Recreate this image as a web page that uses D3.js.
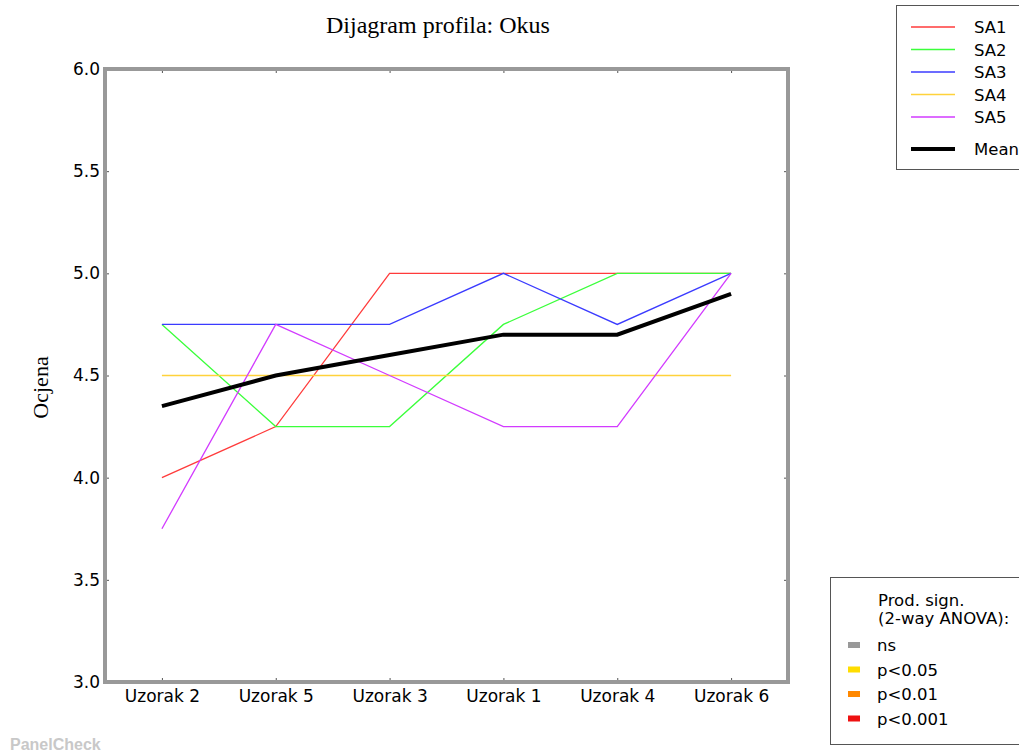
<!DOCTYPE html>
<html>
<head>
<meta charset="utf-8">
<script src="https://cdn.jsdelivr.net/npm/d3@7"></script>
<style>
  body { margin: 0; background: #fff; }
  svg { display: block; }
</style>
</head>
<body>
<div id="chart"></div>
<script>
const samples = ["Uzorak 2", "Uzorak 5", "Uzorak 3", "Uzorak 1", "Uzorak 4", "Uzorak 6"];
const assessors = ["SA1", "SA2", "SA3", "SA4", "SA5"];
const sa1 = [4.0, 4.25, 5.0, 5.0, 5.0, 5.0];
const sa2 = [4.75, 4.25, 4.25, 4.75, 5.0, 5.0];
const sa3 = [4.75, 4.75, 4.75, 5.0, 4.75, 5.0];
const sa4 = [4.5, 4.5, 4.5, 4.5, 4.5, 4.5];
const sa5 = [3.75, 4.75, 4.5, 4.25, 4.25, 5.0];
const meanVals = [4.35, 4.5, 4.6, 4.7, 4.7, 4.9];
const yTicks = [3.0, 3.5, 4.0, 4.5, 5.0, 5.5, 6.0];
const colors = ["#ff3b3b", "#3bff3b", "#3b3bff", "#ffd23b", "#d23bff"];
const signLabels = ["ns", "p<0.05", "p<0.01", "p<0.001"];
const signColors = ["#999999", "#ffdd00", "#ff8800", "#ee1111"];

const series = [sa1, sa2, sa3, sa4, sa5];

const W = 1019, H = 753;
const margin = { top: 69, right: 231, bottom: 71, left: 105 };
const width = W - margin.left - margin.right;
const height = H - margin.top - margin.bottom;

const svg = d3.select("#chart").append("svg")
  .attr("width", W).attr("height", H);

const g = svg.append("g")
  .attr("transform", `translate(${margin.left},${margin.top})`);

const x = d3.scalePoint().domain(samples).range([0, width]).padding(0.5);
const y = d3.scaleLinear().domain([3, 6]).range([height, 0]);

const line = d3.line()
  .x((d, i) => x(samples[i]))
  .y(d => y(d));

series.forEach((s, k) => {
  g.append("path")
    .datum(s)
    .attr("fill", "none")
    .attr("stroke", colors[k])
    .attr("stroke-width", 1.3)
    .attr("d", line);
});

g.append("path")
  .datum(meanVals)
  .attr("fill", "none")
  .attr("stroke", "#000")
  .attr("stroke-width", 4)
  .attr("d", line);

// axes
const yAxis = g.append("g")
  .call(d3.axisLeft(y).tickValues(yTicks).tickFormat(d3.format(".1f")).tickSizeInner(-4).tickSizeOuter(0).tickPadding(5));
yAxis.select(".domain").remove();
yAxis.selectAll("line").attr("stroke", "#555");
yAxis.selectAll("text").attr("font-family", "DejaVu Sans").attr("font-size", 17).attr("fill", "#000");

const yAxisR = g.append("g").attr("transform", `translate(${width},0)`)
  .call(d3.axisRight(y).tickValues(yTicks).tickFormat("").tickSizeInner(-4).tickSizeOuter(0));
yAxisR.select(".domain").remove();
yAxisR.selectAll("line").attr("stroke", "#555");

const xAxis = g.append("g").attr("transform", `translate(0,${height})`)
  .call(d3.axisBottom(x).tickSizeInner(-4).tickSizeOuter(0).tickPadding(8));
xAxis.select(".domain").remove();
xAxis.selectAll("line").attr("stroke", "#555");
xAxis.selectAll("text").attr("font-family", "DejaVu Sans").attr("font-size", 17).attr("fill", "#000");

const xAxisT = g.append("g")
  .call(d3.axisTop(x).tickFormat("").tickSizeInner(-4).tickSizeOuter(0));
xAxisT.select(".domain").remove();
xAxisT.selectAll("line").attr("stroke", "#555");

// frame
g.append("rect")
  .attr("x", 0).attr("y", 0)
  .attr("width", width).attr("height", height)
  .attr("fill", "none")
  .attr("stroke", "#999")
  .attr("stroke-width", 4);

// title and y label
svg.append("text")
  .attr("x", 438).attr("y", 33)
  .attr("text-anchor", "middle")
  .attr("font-family", "Liberation Serif")
  .attr("font-size", 24)
  .text("Dijagram profila: Okus");

svg.append("text")
  .attr("transform", `translate(48,${margin.top + height / 2 + 12}) rotate(-90)`)
  .attr("text-anchor", "middle")
  .attr("font-family", "Liberation Serif")
  .attr("font-size", 22)
  .text("Ocjena");

// legend 1
const leg = svg.append("g");
leg.append("rect")
  .attr("x", 896.5).attr("y", 5.5)
  .attr("width", 140).attr("height", 164)
  .attr("fill", "#fff").attr("stroke", "#555").attr("stroke-width", 1);

const legItems = assessors.concat(["Mean"]);
legItems.forEach((name, i) => {
  const yy = i < 5 ? 27 + i * 22.5 : 149;
  leg.append("line")
    .attr("x1", 911).attr("x2", 955)
    .attr("y1", yy).attr("y2", yy)
    .attr("stroke", i < 5 ? colors[i] : "#000")
    .attr("stroke-width", i < 5 ? 1.3 : 4);
  leg.append("text")
    .attr("x", 974).attr("y", yy + 6)
    .attr("font-family", "DejaVu Sans").attr("font-size", 16.5)
    .text(name);
});

// legend 2
const leg2 = svg.append("g");
leg2.append("rect")
  .attr("x", 830.5).attr("y", 577.5)
  .attr("width", 200).attr("height", 167)
  .attr("fill", "#fff").attr("stroke", "#555").attr("stroke-width", 1);
leg2.append("text")
  .attr("x", 878).attr("y", 606)
  .attr("font-family", "DejaVu Sans").attr("font-size", 16.5)
  .text("Prod. sign.");
leg2.append("text")
  .attr("x", 878).attr("y", 624)
  .attr("font-family", "DejaVu Sans").attr("font-size", 16.5)
  .text("(2-way ANOVA):");
signLabels.forEach((name, i) => {
  const yy = 645 + i * 24.5;
  leg2.append("rect")
    .attr("x", 848).attr("y", yy - 3)
    .attr("width", 12).attr("height", 6)
    .attr("fill", signColors[i]);
  leg2.append("text")
    .attr("x", 877).attr("y", yy + 6)
    .attr("font-family", "DejaVu Sans").attr("font-size", 16.5)
    .text(name);
});

// watermark
svg.append("text")
  .attr("x", 10).attr("y", 750)
  .attr("font-family", "Liberation Sans")
  .attr("font-weight", "bold")
  .attr("font-size", 16)
  .attr("fill", "#c8c8c8")
  .text("PanelCheck");
</script>
</body>
</html>
